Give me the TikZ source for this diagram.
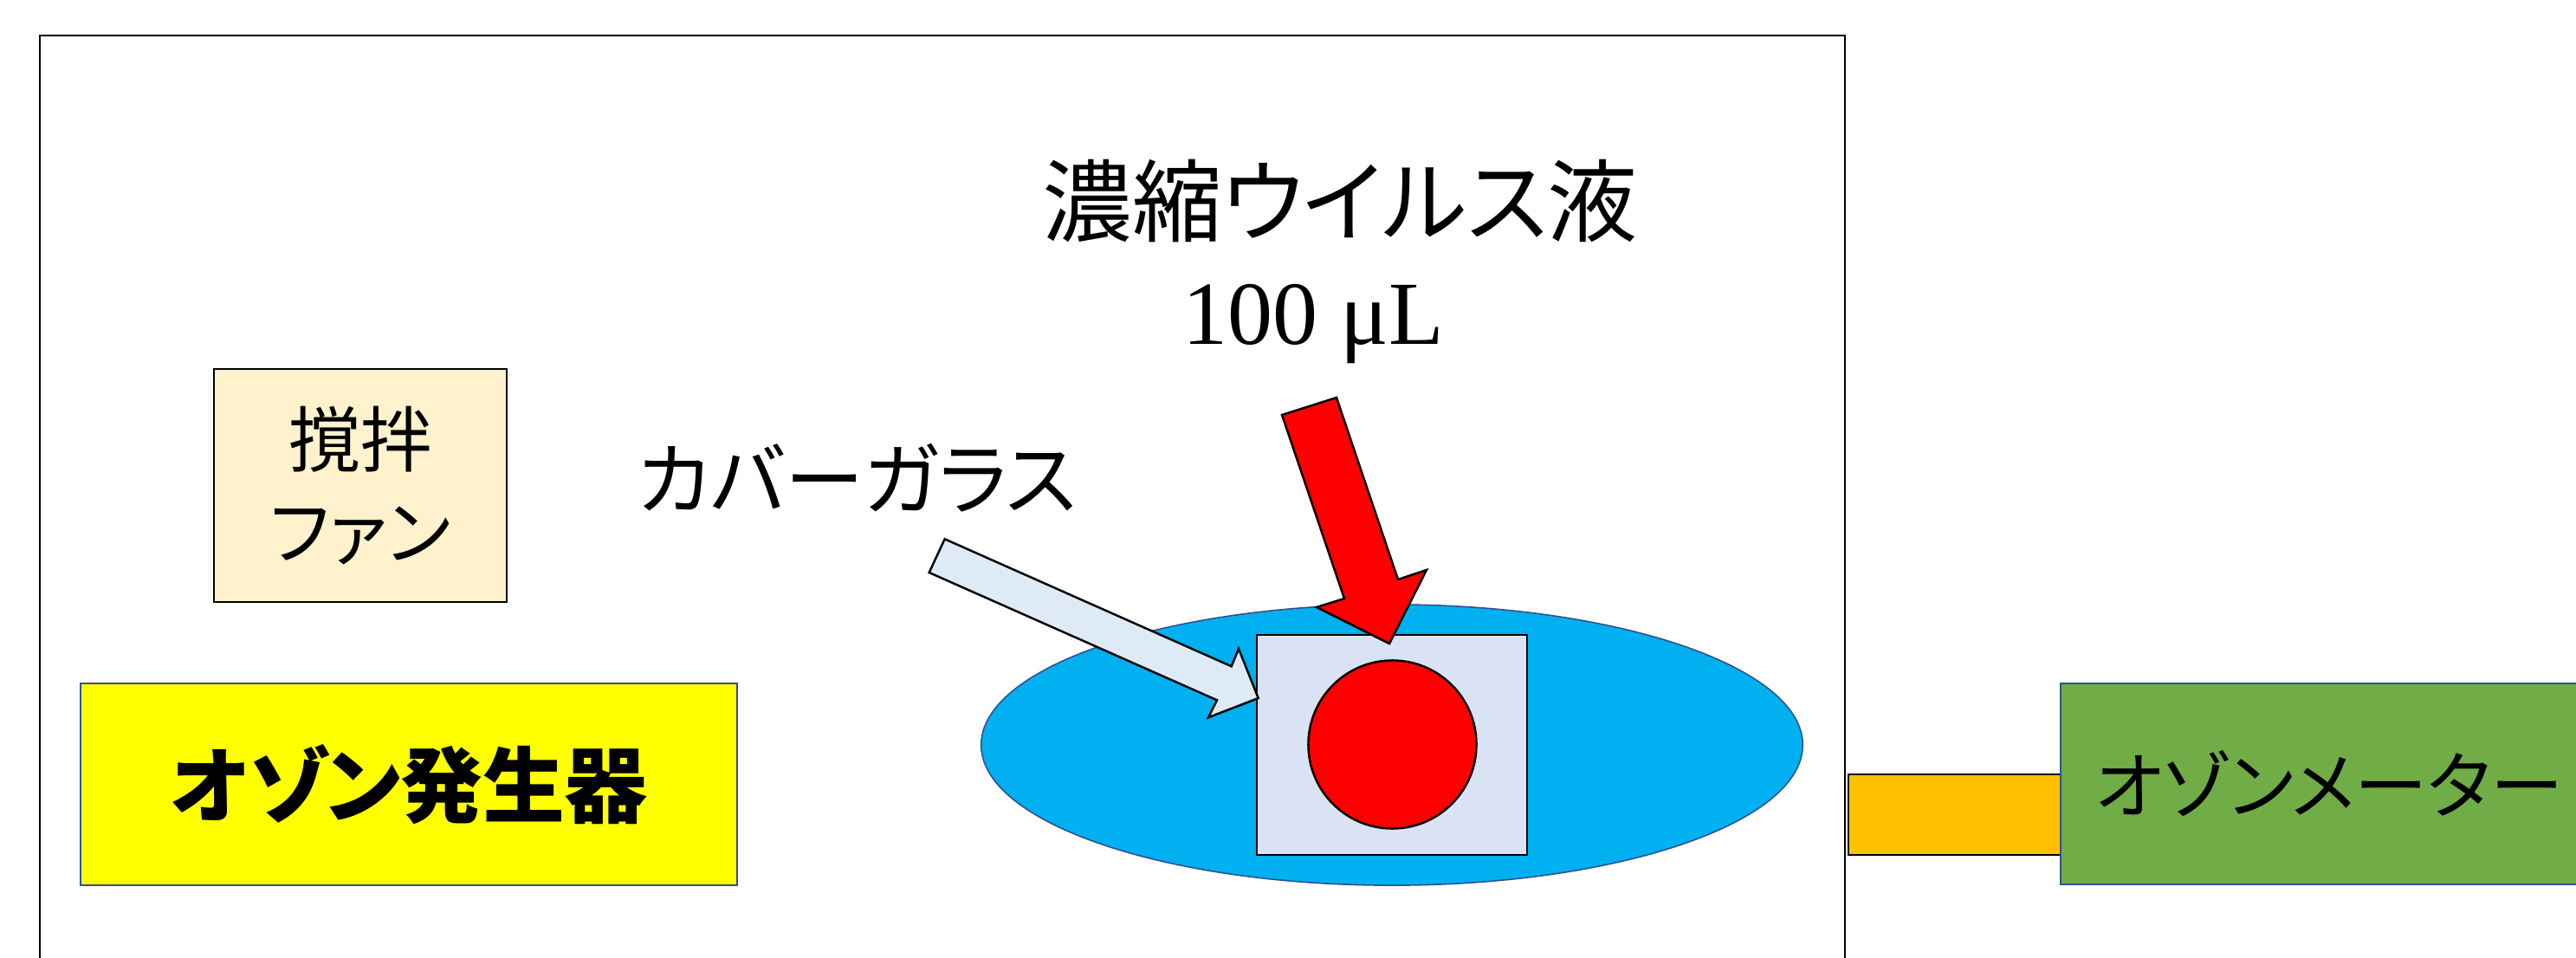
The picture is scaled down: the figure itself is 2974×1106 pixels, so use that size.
\documentclass[tikz,border=0pt]{standalone}
\usepackage{fontspec}
\usetikzlibrary{shapes.geometric}
\newfontfamily\jp[RawFeature=+palt]{Noto Sans CJK JP}
\newfontfamily\serifnum{Liberation Serif}
\definecolor{cream}{HTML}{FFF2CC}
\definecolor{genyellow}{HTML}{FFFF00}
\definecolor{dishblue}{HTML}{00B0F0}
\definecolor{edgeblue}{HTML}{2F528F}
\definecolor{glassblue}{HTML}{DAE3F3}
\definecolor{arrowblue}{HTML}{DEEBF7}
\definecolor{pipeorange}{HTML}{FFC000}
\definecolor{metergreen}{HTML}{70AD47}
\begin{document}
\begin{tikzpicture}[x=0.01cm,y=-0.01cm,
  blackbox/.style={draw=black, line width=0.6pt, rectangle, inner sep=0pt},
  bluebox/.style={draw=edgeblue, line width=0.45pt, rectangle, inner sep=0pt},
  label/.style={inner sep=0pt, text=black}]
\clip (0,0) rectangle (2974,1106);
\fill[white] (0,0) rectangle (2974,1106);
% chamber
\draw[line width=0.75pt] (46,1140) -- (46,41) -- (2130,41) -- (2130,1140);
% fan
\node[blackbox, fill=cream, minimum width=3.38cm, minimum height=2.69cm] (fan) at (416,560.5) {};
\node[label, align=center, font=\jp\fontsize{23.5}{30.4}\selectfont] (fantext) at (fan.center) {撹拌\\ファン};
% ozone generator
\node[bluebox, fill=genyellow, minimum width=7.58cm, minimum height=2.33cm] (gen) at (472,905.5) {};
\node[label, font=\jp\bfseries\fontsize{27}{32}\selectfont] (gentext) at (gen.center) {オゾン発生器};
% dish
\node[ellipse, draw=edgeblue, line width=0.45pt, fill=dishblue, minimum width=9.48cm, minimum height=3.24cm, inner sep=0pt] (dish) at (1607,860) {};
% cover glass
\node[blackbox, line width=0.7pt, fill=glassblue, minimum width=3.12cm, minimum height=2.54cm] (glass) at (1607,860) {};
% virus drop
\node[circle, draw=black, line width=0.7pt, fill=red, minimum size=1.94cm, inner sep=0pt] (drop) at (1607.5,859.5) {};
% cover glass arrow
\draw[line width=0.7pt, fill=arrowblue, line join=miter] (1090.7,622.3) -- (1421.7,769.3) -- (1430,749) -- (1452.7,806) -- (1395,828.3) -- (1405,808.3) -- (1072.7,661) -- cycle;
% virus arrow
\draw[line width=0.7pt, fill=red, line join=miter] (1480,479) -- (1543,459) -- (1614,669) -- (1647,658) -- (1604,743) -- (1520,701) -- (1552,691) -- cycle;
% pipe and meter
\node[blackbox, fill=pipeorange, minimum width=2.46cm, minimum height=0.93cm] (pipe) at (2257,940.5) {};
\node[bluebox, fill=metergreen, minimum width=7.21cm, minimum height=2.32cm] (meter) at (2739.5,905) {};
\node[label, font=\jp\fontsize{24}{28}\selectfont] (metertext) at (2689,905) {オゾンメーター};
% labels
\node[label, font=\jp\fontsize{29.5}{34}\selectfont] (virustext) at (1547,232) {濃縮ウイルス液};
\node[label, anchor=base, font=\serifnum\fontsize{29.6}{34}\selectfont] (voltext) at (1516,397) {100 μL};
\node[label, font=\jp\fontsize{26}{30}\selectfont] (covertext) at (989.5,552) {カバーガラス};
\end{tikzpicture}
\end{document}
